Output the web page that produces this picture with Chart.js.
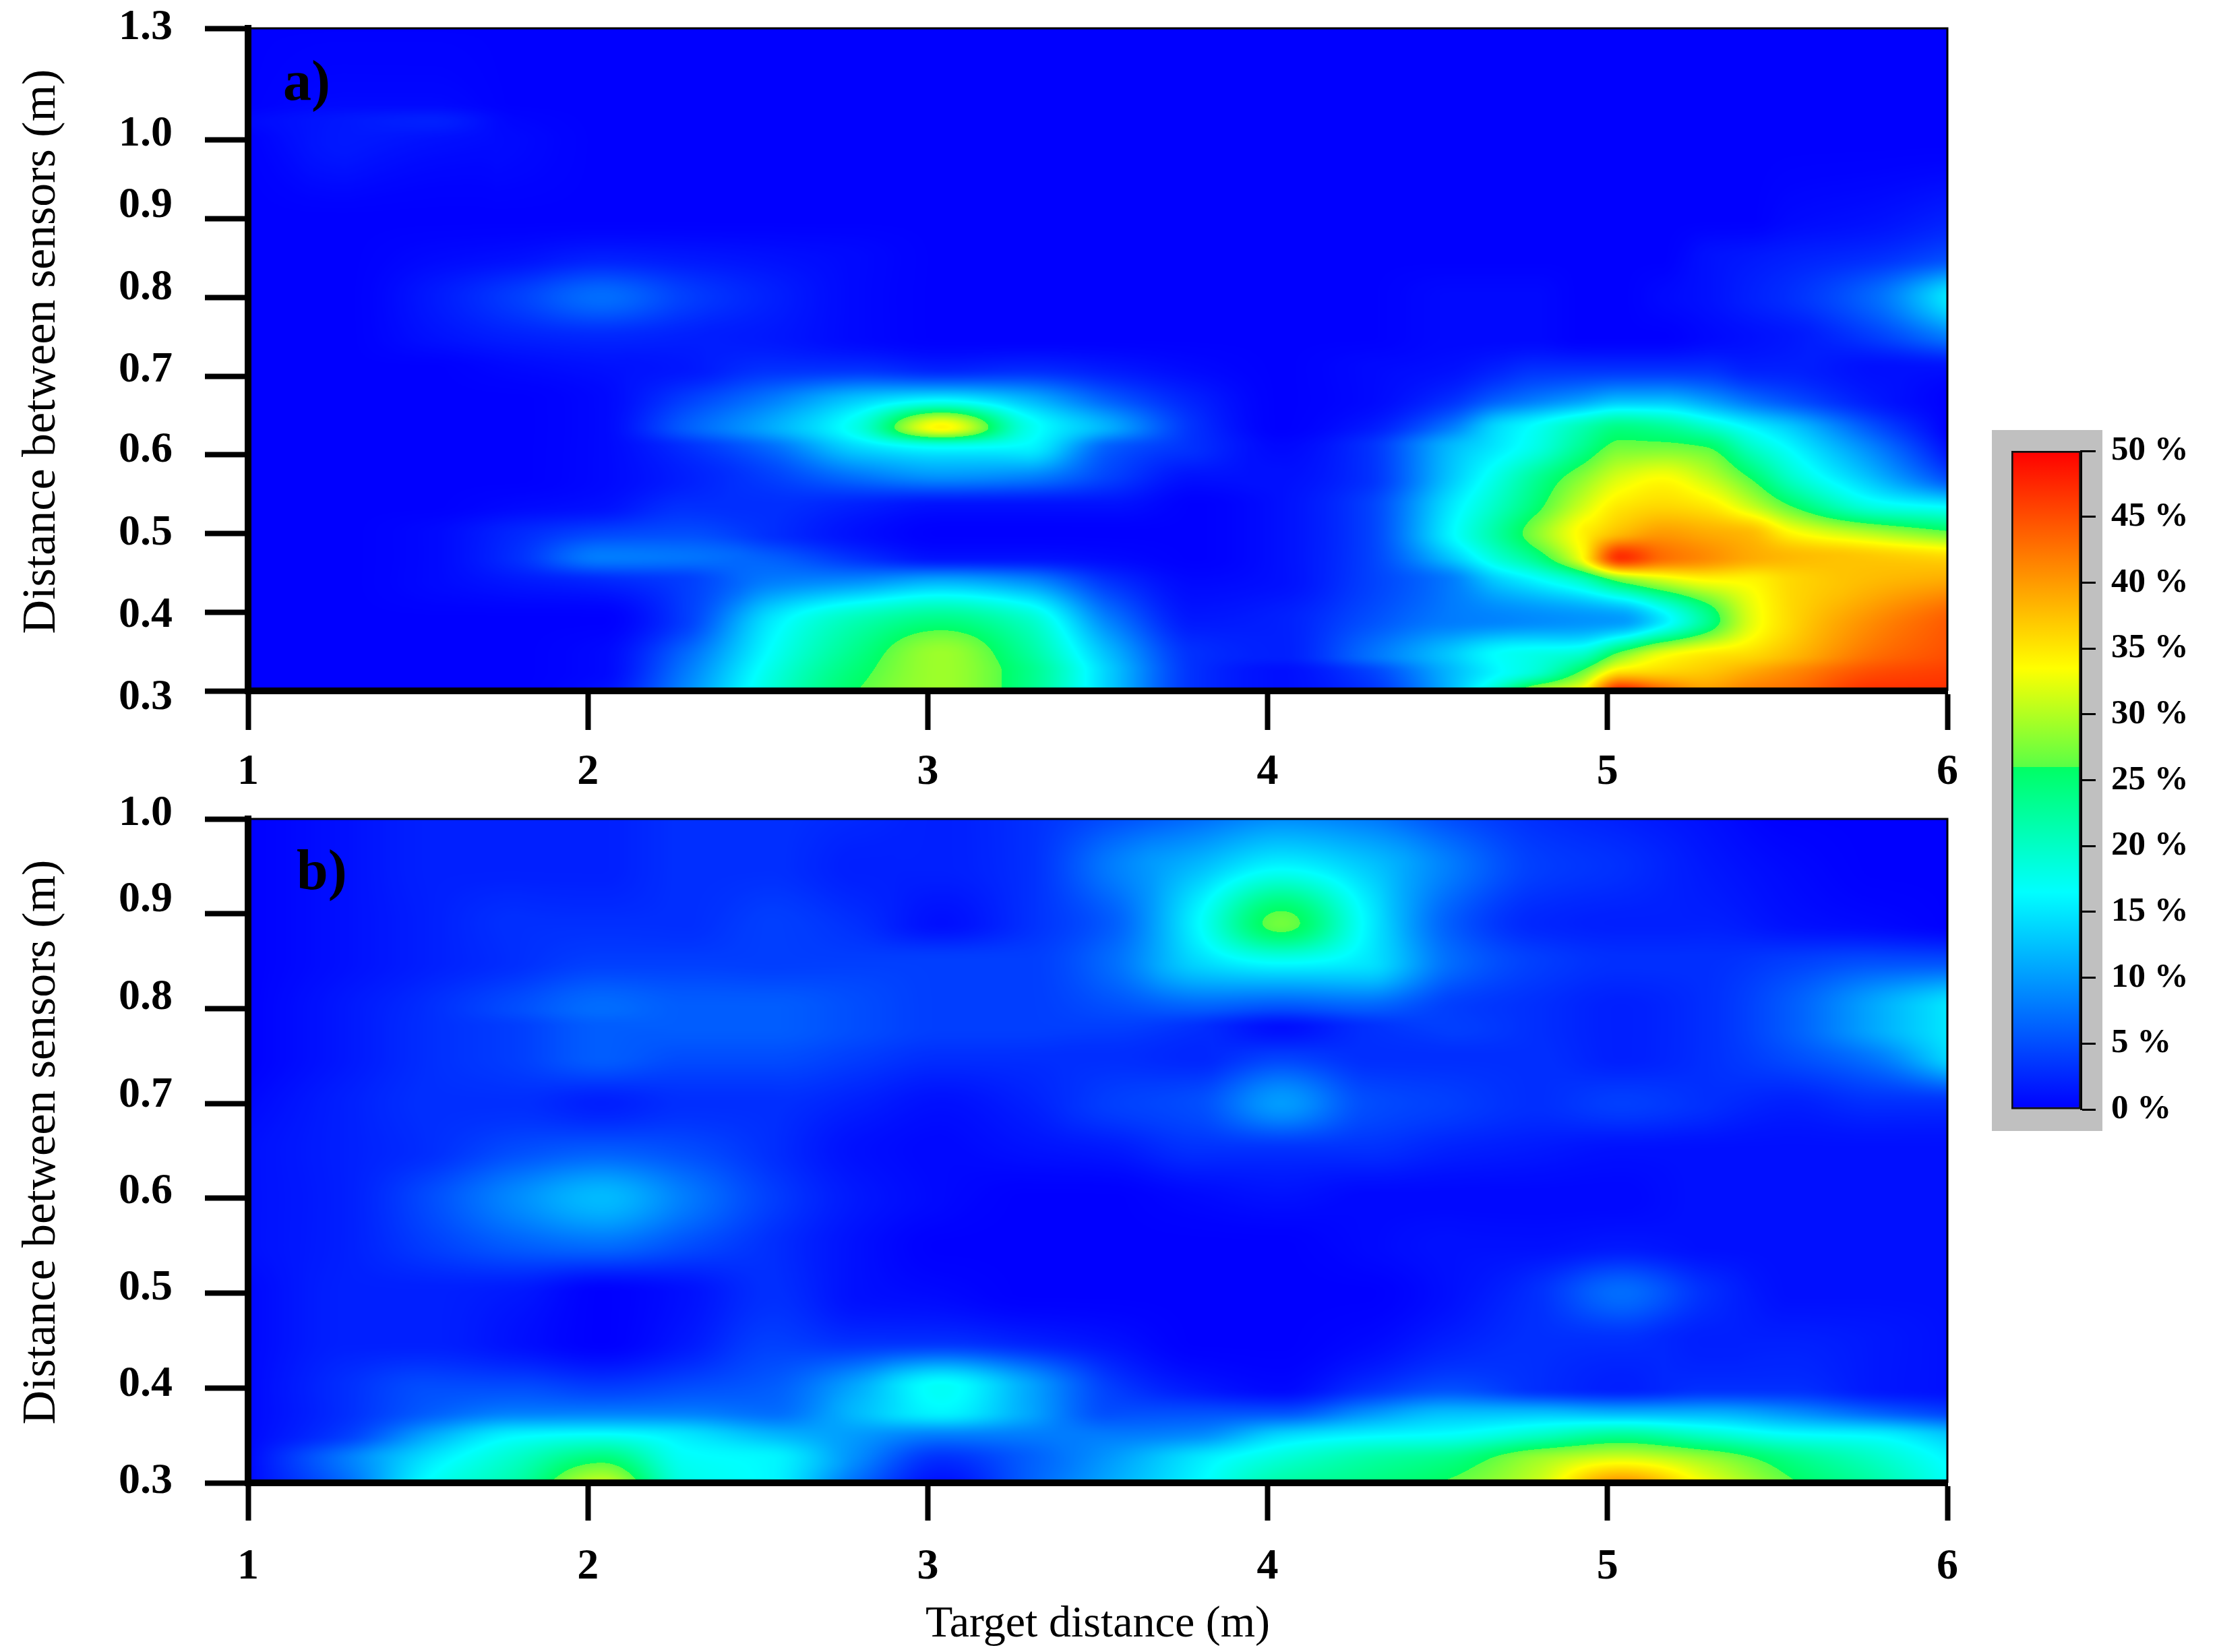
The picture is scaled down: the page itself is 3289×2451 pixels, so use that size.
<!DOCTYPE html>
<html><head><meta charset="utf-8">
<style>html,body{margin:0;padding:0;background:#fff;width:3289px;height:2451px;overflow:hidden}canvas{position:absolute;display:block}</style>
<script src="https://cdn.jsdelivr.net/npm/chart.js@4"></script>
</head><body>
<canvas id="a" style="left:0px;top:0px" width="3289" height="1215"></canvas>
<canvas id="b" style="left:0px;top:1150px" width="3289" height="1301"></canvas>
<canvas id="c" style="left:2900px;top:600px" width="389" height="1100"></canvas>
<script>
// ---------- data (error, %) ----------
const targetDistanceTicks = [1, 2, 3, 4, 5, 6];
const sensorTicksA = [0.3, 0.4, 0.5, 0.6, 0.7, 0.8, 0.9, 1.0, 1.3];
const sensorTicksB = [0.3, 0.4, 0.5, 0.6, 0.7, 0.8, 0.9, 1.0];
const percentTicks = [0, 5, 10, 15, 20, 25, 30, 35, 40, 45, 50];

const columnsA = [1.00,1.29,1.54,1.79,2.04,2.29,2.54,2.79,3.04,3.29,3.54,3.79,4.04,4.29,4.54,4.67,4.79,4.92,5.04,5.16,5.29,5.42,5.54,5.79,6.00];
const rowsA = [0.30,0.325,0.345,0.39,0.44,0.47,0.50,0.535,0.57,0.61,0.635,0.67,0.71,0.75,0.80,0.85,0.90,1.00,1.05,1.10,1.30];
const valuesA = [
[0,0,0,0,1,9,19,26,29,24,13,3,1,3,12,20,30,34,49,44,40,42,43,47,47],
[0,0,0,0,0.5,8,18,25,29,24,13,3,1,4,12,16,19,26,35,36,37,39,41,45,46],
[0,0,0,0,0.5,7,17,24,29,23,12,3,2,7,13,16.5,18,20,28,33,35,36,38,43,45],
[0,0,0,0,0,4,15,21,24,20,8,1.5,2,5,8,8.5,9,9.5,10,15,23,32,36,41,44],
[0,0,0.5,1.5,2.5,4,8,9,11,9,3,0.5,1,4,8,13,16,20,27,31,33.5,34,36,38,39],
[0,0,0.5,3,8,7.5,6,3,1,1,0.5,0,1,4,13,19,24,33,47,43,41,39,38,37,36],
[0,0,0.5,2.5,4.5,5,3,1,0,0,0,0,1,4,16,22,28,34,38,40,39,38,34,30,27],
[0,0,0,0.5,1,3,3,2,1,1,1,0,1,4,15,20,25,31,35,36,35,31,26,18,16],
[0,0,0,0,0.5,2,4,7,9,8,4,1,1,3,13,18,23,28,32,33.5,31,26,20,12,5],
[0,0,0,0,0.5,3,7,14,17,16,6,3,0.5,3,12,15,18,23,27,27,26,20,16,8,1],
[0,0,0,0,0.5,6,11,18,34,18,11,3,0,1.5,8,14,17,21,24,23,20,16,13,5,0],
[0,0,0,0,0.5,4,8,13,16,12,6,2,0,0.5,3,6,8,10,12,12,10,7,5,1.5,0],
[0,0,0,0.5,1,1.5,3,3,2,2.5,1.5,0.5,0,0.5,1,2,3,3,3,3,3,2,2,1,1],
[0,0,1,2,2.5,2,1.5,0.5,0,0,0,0,0,0,0.5,0.5,0.5,0,0,0,0.5,1,1.5,4,8],
[0,0,1.5,4,7,4,2,0.5,0,0,0,0,0,0,0.5,0.5,0.5,0,0,0.5,1,2,3,7,15],
[0,0,0.5,1,2,1.5,1,0.5,0,0,0,0,0,0,0,0,0,0,0,0,1,1.5,2,3,5],
[0,0,0,0,0,0,0,0,0,0,0,0,0,0,0,0,0,0,0,0,0,0,0.5,1,2],
[0,1.5,1,0.5,0,0,0,0,0,0,0,0,0,0,0,0,0,0,0,0,0,0,0,0,0],
[0.5,1.5,2,0.3,0,0,0,0,0,0,0,0,0,0,0,0,0,0,0,0,0,0,0,0,0],
[0,0.5,0.5,0,0,0,0,0,0,0,0,0,0,0,0,0,0,0,0,0,0,0,0,0,0],
[0,0,0,0,0,0,0,0,0,0,0,0,0,0,0,0,0,0,0,0,0,0,0,0,0]
];

const columnsB = [1.00,1.29,1.54,1.79,2.04,2.29,2.54,2.79,3.04,3.29,3.54,3.79,4.04,4.29,4.54,4.79,5.04,5.29,5.54,5.79,6.00];
const rowsB = [0.30,0.325,0.35,0.375,0.40,0.45,0.50,0.55,0.60,0.65,0.70,0.75,0.78,0.80,0.85,0.89,0.95,1.00];
const valuesB = [
[0.5,7,17,22,31,18,16,7,1,6,11,16,22,24,26.5,31,41,33,26.5,22,17],
[0.5,8,15,20,25,17,16,9,3,6,10,15,19,22,24,29,32,29,24,20,16],
[0.5,4,11,16,17,15,12,10,8,8,8,9,14,16,17,20,23,20,17,16,13],
[0.5,3,6,8,8,8,7,12,16,11,5,5,5,9,12,12,11,11,9,6,4],
[0.5,3,5,5,4,5,6,11,17,11,4,1.5,0.5,3,5,3,2,3,3,1.5,1],
[0.5,2,2,1,0,1.5,4,3,3,2,1,0,0,0.5,2,3,3,2,2,1.5,1],
[0.5,2,2,1.5,0,1,3,1,0.5,0,0,0,0,0,1,3,7,3,1,1,1],
[1,2,4,6,7,5,3,1,0,0,0,0,0,0.5,1,1,1.5,1,1,1,1],
[1,2,5,9,12,8,4,1.5,0.5,0,0,0.5,1,0.5,0.5,0.5,0.5,1,1,1,1],
[1,2,3,5,6,5,3,1,0.5,1,1.5,3,3,3,2,1.5,1,1,1,1,1],
[0.5,2,3,3,2,3,3,2,1,2,4,5,10,5,4,3,4,3,2,3,3],
[0,1.5,3,4,6,5,5,4,3,3,3,2.5,4,3,3,3,2,3,5,8,14],
[0,1.5,3,4,6,6,6,5,4,4,4,3,1,3,4,3,2,3,6,11,15],
[0,1.5,3,5,7,6,6,5,4,4,5,6,5,6,4,3,2,3,6,11,15],
[0,1,2,3,4,4,4,4,4,4,7,14,17,15,7,4,3,3,4,5,5],
[0,1,2,3,3,3,4,3,1,3,6,16,27,16,6,2.5,2,2,1,0.5,0],
[0,1,2,2,2,3,3,2,2,3,8,12,16,13,8,4,3,1.5,0.5,0,0],
[0,1,2,2,2,3,3,2.5,2,3,5,7,9,8,5,3,2,1,0,0,0]
];

const colorValues = [0, 16.5, 26, 26.01, 33.5, 50];
const colorRGB = [[0,0,255],[0,255,255],[0,255,100],[90,255,70],[255,255,0],[255,0,0]];

// ---------- style ----------
const SERIF = "'Liberation Serif'";
// the printed y labels sit a little off their tick marks (px, + = down)
const labelNudgeA = [10, 5, 0, -6, -9, -14, -19, -8, -1];
const labelNudgeB = [-2, -5, -7, -9, -12, -16, -20, -8];
// 1.0 to 1.3 is drawn compressed in panel a
const compressAbove1 = d => d <= 1 ? d : 1 + (d - 1) * 0.4733;

function colorAt(v) {
  const n = colorValues.length;
  if (v <= colorValues[0]) return colorRGB[0];
  if (v >= colorValues[n - 1]) return colorRGB[n - 1];
  let i = 0;
  while (v > colorValues[i + 1]) i++;
  const t = (v - colorValues[i]) / (colorValues[i + 1] - colorValues[i]);
  return colorRGB[i].map((c, k) => c + (colorRGB[i + 1][k] - c) * t);
}

// shape-preserving cubic through the read values
function slopes(x, y) {
  const n = x.length, d = new Array(n), h = [], s = [];
  for (let i = 0; i < n - 1; i++) { h[i] = x[i + 1] - x[i]; s[i] = (y[i + 1] - y[i]) / h[i]; }
  d[0] = s[0]; d[n - 1] = s[n - 2];
  for (let i = 1; i < n - 1; i++) {
    if (s[i - 1] * s[i] <= 0) d[i] = 0;
    else {
      const w1 = 2 * h[i] + h[i - 1], w2 = h[i] + 2 * h[i - 1];
      d[i] = (w1 + w2) / (w1 / s[i - 1] + w2 / s[i]);
    }
  }
  return d;
}
function segment(x, v) {
  let i = 0;
  const n = x.length;
  while (i < n - 2 && v > x[i + 1]) i++;
  return i;
}
function hermite(x, y, d, i, v) {
  const h = x[i + 1] - x[i], t = Math.min(1, Math.max(0, (v - x[i]) / h));
  const t2 = t * t, t3 = t2 * t;
  return (2 * t3 - 3 * t2 + 1) * y[i] + (t3 - 2 * t2 + t) * h * d[i] +
         (-2 * t3 + 3 * t2) * y[i + 1] + (t3 - t2) * h * d[i + 1];
}

const lut = [];
for (let i = 0; i <= 1000; i++) lut.push(colorAt(i * 0.05));

const heatPlugin = {
  id: 'heat',
  beforeDatasetsDraw(chart) {
    const cfg = chart.options.plugins.heat;
    if (!cfg || !cfg.values) return;
    const { left, right, top, bottom } = chart.chartArea;
    const W = Math.round(right - left), H = Math.round(bottom - top);
    const sx = chart.scales.x, sy = chart.scales.y;
    const rows = cfg.rows.map(compressAbove1);
    const xv = [], xi = [];
    for (let i = 0; i < W; i++) { const v = sx.getValueForPixel(left + i + 0.5); xv.push(v); xi.push(segment(cfg.columns, v)); }
    const yv = [], yi = [];
    for (let p = 0; p < H; p++) { const v = sy.getValueForPixel(top + p + 0.5); yv.push(v); yi.push(segment(rows, v)); }
    const rowLines = cfg.values.map(r => {
      const d = slopes(cfg.columns, r), out = new Float32Array(W);
      for (let i = 0; i < W; i++) out[i] = hermite(cfg.columns, r, d, xi[i], xv[i]);
      return out;
    });
    const off = document.createElement('canvas');
    off.width = W; off.height = H;
    const oc = off.getContext('2d'), img = oc.createImageData(W, H), px = img.data;
    const col = new Array(rows.length);
    for (let i = 0; i < W; i++) {
      for (let j = 0; j < rows.length; j++) col[j] = rowLines[j][i];
      const d = slopes(rows, col);
      for (let p = 0; p < H; p++) {
        const v = hermite(rows, col, d, yi[p], yv[p]);
        const c = lut[Math.max(0, Math.min(1000, Math.round(v / 0.05)))];
        const o = (p * W + i) * 4;
        px[o] = c[0]; px[o + 1] = c[1]; px[o + 2] = c[2]; px[o + 3] = 255;
      }
    }
    oc.putImageData(img, 0, 0);
    chart.ctx.drawImage(off, left, top);
  },
  afterDraw(chart) {
    const cfg = chart.options.plugins.heat;
    if (!cfg || !cfg.values) return;
    const { left, right, top, bottom } = chart.chartArea, ctx = chart.ctx;
    ctx.save();
    ctx.strokeStyle = '#000'; ctx.lineWidth = 3;
    ctx.beginPath();
    ctx.moveTo(left, top); ctx.lineTo(right, top); ctx.lineTo(right, bottom);
    ctx.stroke();
    ctx.fillStyle = '#000';
    ctx.font = "bold 84px " + SERIF;
    ctx.textBaseline = 'middle'; ctx.textAlign = 'left';
    ctx.fillText(cfg.panel, left + cfg.panelDx, top + cfg.panelDy);
    ctx.restore();
  }
};

function fixSize(dim, size) {
  return s => { s[dim] = size; s.paddingLeft = s.paddingRight = s.paddingTop = s.paddingBottom = 0; };
}

function heatChart(id, o) {
  const points = [];
  o.rows.forEach((r, j) => o.columns.forEach((c, i) => points.push({ x: c, y: compressAbove1(r), v: o.values[j][i] })));
  const yMin = compressAbove1(o.yTicks[0]), yMax = compressAbove1(o.yTicks[o.yTicks.length - 1]);
  const unitPerPx = (yMax - yMin) / o.plotH;
  const tickFont = { family: SERIF, size: 64, weight: 'bold' };
  const xOpts = {
    type: 'linear', min: 1, max: 6, position: 'bottom',
    afterBuildTicks: s => { s.ticks = targetDistanceTicks.map(v => ({ value: v })); },
    afterFit: fixSize('height', o.xAxisH),
    grid: { drawOnChartArea: false, drawTicks: true, tickLength: o.tickX, tickWidth: 8, tickColor: '#000', z: 1 },
    border: { display: true, width: 10, color: '#000', z: 1 },
    ticks: { font: tickFont, color: '#000', padding: o.xLabelPad, maxRotation: 0, autoSkip: false, callback: v => String(v) },
    title: o.xTitle ? { display: true, text: o.xTitle, color: '#000', font: { family: SERIF, size: 66 }, padding: { top: 0, bottom: 1 } } : { display: false }
  };
  new Chart(document.getElementById(id), {
    type: 'scatter',
    data: { datasets: [{ label: 'Error (%)', data: points, pointRadius: 0, pointHoverRadius: 0, showLine: false }] },
    plugins: [heatPlugin],
    options: {
      responsive: false, animation: false, events: [],
      layout: { padding: { left: 0, right: 400, top: o.top, bottom: o.bottomPad } },
      plugins: {
        legend: { display: false }, tooltip: { enabled: false },
        heat: { columns: o.columns, rows: o.rows, values: o.values, panel: o.panel, panelDx: o.panelDx, panelDy: o.panelDy }
      },
      scales: {
        x: xOpts,
        y: {
          type: 'linear', position: 'left', weight: 0, min: yMin, max: yMax,
          afterBuildTicks: s => { s.ticks = o.yTicks.map(d => ({ value: compressAbove1(d) })); },
          afterFit: fixSize('width', 64),
          grid: { drawOnChartArea: false, drawTicks: true, tickLength: 64, tickWidth: 8, tickColor: '#000', z: 1 },
          border: { display: true, width: 10, color: '#000', z: 1 },
          ticks: { display: false }
        },
        yLabels: {
          type: 'linear', position: 'left', weight: 1, min: yMin, max: yMax,
          afterBuildTicks: s => { s.ticks = o.yTicks.map((d, i) => ({ value: compressAbove1(d) - o.nudge[i] * unitPerPx })); },
          afterFit: s => {
            fixSize('width', 304)(s);
            if (!s._shifted) {
              s._shifted = true;
              const draw = s.drawTitle;
              s.drawTitle = function () { const c = this.ctx; c.save(); c.translate(0, o.titleDy); draw.call(this); c.restore(); };
            }
          },
          grid: { display: false, drawTicks: false },
          border: { display: false },
          ticks: { font: tickFont, color: '#000', padding: 48, autoSkip: false, maxRotation: 0, callback: (v, i) => o.yTicks[i].toFixed(1) },
          title: { display: true, text: 'Distance between sensors (m)', color: '#000', font: { family: SERIF, size: 70 }, padding: { top: 21, bottom: 0 } }
        }
      }
    }
  });
}

heatChart('a', {
  columns: columnsA, rows: rowsA, values: valuesA, yTicks: sensorTicksA, nudge: labelNudgeA,
  top: 42, plotH: 983, xAxisH: 150, bottomPad: 40, tickX: 58, xLabelPad: 25, titleDy: -12,
  panel: 'a)', panelDx: 52, panelDy: 84
});
heatChart('b', {
  columns: columnsB, rows: rowsB, values: valuesB, yTicks: sensorTicksB, nudge: labelNudgeB,
  top: 65, plotH: 985, xAxisH: 251, bottomPad: 0, tickX: 56, xLabelPad: 31, titleDy: -13,
  panel: 'b)', panelDx: 72, panelDy: 82, xTitle: 'Target distance (m)'
});

// colour scale
new Chart(document.getElementById('c'), {
  type: 'bar',
  data: {
    labels: ['Error'],
    datasets: [{
      data: [[percentTicks[0], percentTicks[percentTicks.length - 1]]],
      barPercentage: 1, categoryPercentage: 1,
      borderWidth: 3, borderColor: '#111', borderSkipped: false,
      backgroundColor: ctx => {
        const a = ctx.chart.chartArea;
        if (!a) return '#00f';
        const s = ctx.chart.scales.y, g = ctx.chart.ctx.createLinearGradient(0, s.getPixelForValue(0), 0, s.getPixelForValue(50));
        colorValues.forEach((v, i) => g.addColorStop(v / 50, 'rgb(' + colorRGB[i].join(',') + ')'));
        return g;
      }
    }]
  },
  plugins: [{
    id: 'panel',
    beforeDraw(chart) {
      const a = chart.chartArea, c = chart.ctx;
      c.save(); c.fillStyle = '#c0c0c0';
      c.fillRect(a.left - 29, a.top - 31, a.right - a.left + 32 + 29, a.bottom - a.top + 63);
      c.restore();
    }
  }],
  options: {
    responsive: false, animation: false, events: [],
    layout: { padding: { left: 84, right: 0, top: 69, bottom: 54 } },
    plugins: { legend: { display: false }, tooltip: { enabled: false } },
    scales: {
      x: { display: false, offset: true, grid: { display: false } },
      y: {
        type: 'linear', position: 'right', min: 0, max: 50,
        afterBuildTicks: s => { s.ticks = percentTicks.map(v => ({ value: v })); },
        afterFit: fixSize('width', 202),
        grid: { drawOnChartArea: false, drawTicks: true, tickLength: 22, tickWidth: 3, tickColor: '#000' },
        border: { display: true, width: 3, color: '#000' },
        ticks: { font: { family: SERIF, size: 51, weight: 'bold' }, color: '#000', padding: 23, autoSkip: false, callback: v => v + ' %' }
      }
    }
  }
});
</script>
</body></html>
